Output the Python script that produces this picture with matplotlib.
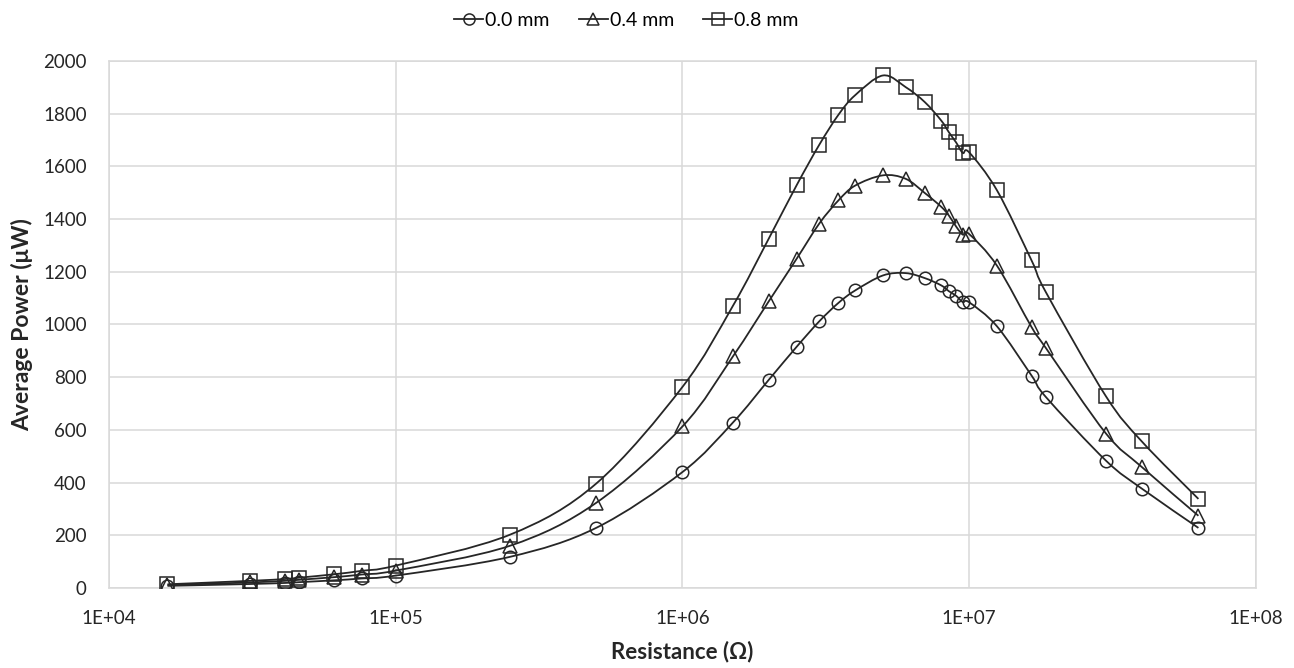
import numpy as np
import matplotlib.pyplot as plt
from matplotlib.path import Path
from matplotlib.patches import PathPatch
from matplotlib.ticker import FuncFormatter, FixedLocator

plt.rcParams['font.family'] = ['Lato', 'DejaVu Sans']

# resistance values (ohm)
resistance = [1.6e4, 3.1e4, 4.1e4, 4.6e4, 6.1e4, 7.6e4, 1.0e5, 2.5e5,
              5.0e5, 1.0e6, 1.5e6, 2.0e6, 2.5e6, 3.0e6, 3.5e6, 4.0e6,
              5.0e6, 6.0e6, 7.0e6, 8.0e6, 8.5e6, 9.0e6, 9.5e6, 1.0e7,
              1.25e7, 1.65e7, 1.85e7, 3.0e7, 4.0e7, 6.3e7]

# average power (uW)
p_00 = [8, 15, 19, 22, 29, 36, 47, 118,
        228, 440, 628, 790, 915, 1012, 1082, 1129,
        1186, 1195, 1176, 1148, 1126, 1109, 1085, 1084,
        993, 806, 725, 483, 377, 228]
p_04 = [11, 21, 27, 31, 41, 51, 66, 160,
        323, 613, 879, 1088, 1249, 1383, 1471, 1527,
        1566, 1553, 1499, 1446, 1413, 1372, 1341, 1343,
        1223, 990, 911, 586, 459, 274]
p_08 = [14, 27, 34, 39, 52, 65, 85, 202,
        396, 763, 1071, 1326, 1528, 1682, 1796, 1870,
        1945, 1901, 1844, 1773, 1729, 1691, 1651, 1653,
        1509, 1243, 1123, 727, 556, 338]

labels = ['0.0 mm', '0.4 mm', '0.8 mm']
markers = ['o', '^', 's']
msizes = [9, 9.5, 9.5]
series = [p_00, p_04, p_08]

line_col = '#262626'
grid_col = '#d9d9d9'


# excel style smoothed line: bezier through the points, built in log-x space
def smooth_path(xs, ys):
    lx = np.log10(xs)
    ys = np.asarray(ys, dtype=float)
    pts = np.column_stack([lx, ys])
    n = len(pts)
    verts = [pts[0]]
    codes = [Path.MOVETO]
    for i in range(n - 1):
        p0 = pts[max(i - 1, 0)]
        p1 = pts[i]
        p2 = pts[i + 1]
        p3 = pts[min(i + 2, n - 1)]
        c1 = p1 + (p2 - p0) / 6.0
        c2 = p2 - (p3 - p1) / 6.0
        verts += [c1, c2, p2]
        codes += [Path.CURVE4] * 3
    verts = np.array(verts)
    verts[:, 0] = 10 ** verts[:, 0]
    return Path(verts, codes)


fig = plt.figure(figsize=(12.94, 6.68), dpi=100)
ax = fig.add_axes([0.0842, 0.1198, 0.8864, 0.7889])

for vals, lab, mk, ms in zip(series, labels, markers, msizes):
    patch = PathPatch(smooth_path(resistance, vals), facecolor='none',
                      edgecolor=line_col, lw=1.3, zorder=3)
    ax.add_patch(patch)
    ax.plot(resistance, vals, linestyle='none', marker=mk, markersize=ms,
            markerfacecolor='none', markeredgecolor=line_col,
            markeredgewidth=1.1, zorder=4)
    # legend proxy
    ax.plot([], [], color=line_col, lw=1.3, marker=mk, markersize=ms - 1,
            markerfacecolor='none', markeredgecolor=line_col,
            markeredgewidth=1.1, label=lab)

ax.set_xscale('log')
ax.set_xlim(1e4, 1e8)
ax.set_ylim(0, 2000)
ax.set_yticks(np.arange(0, 2001, 200))
ax.xaxis.set_major_locator(FixedLocator([1e4, 1e5, 1e6, 1e7, 1e8]))
ax.xaxis.set_minor_locator(FixedLocator([]))
ax.xaxis.set_major_formatter(FuncFormatter(lambda v, p: '1E+%02d' % int(round(np.log10(v)))))

ax.grid(True, color=grid_col, lw=1.1)
ax.set_axisbelow(True)
for s in ax.spines.values():
    s.set_color(grid_col)
    s.set_linewidth(1.1)
ax.tick_params(axis='y', length=0, labelsize=13.5, colors='#262626', pad=16)
ax.tick_params(axis='x', length=0, labelsize=13.5, colors='#262626', pad=16)

ax.set_xlabel('Resistance (Ω)', fontsize=16, fontweight='bold', color='#262626', labelpad=10)
ax.set_ylabel('Average Power (μW)', fontsize=16.5, fontweight='bold', color='#262626', labelpad=7)

fig.legend(loc='center', bbox_to_anchor=(0.484, 0.97), ncol=3, frameon=False,
           fontsize=14, handlelength=1.5, handletextpad=0.1, columnspacing=1.5)

fig.savefig('out.png', dpi=100)
